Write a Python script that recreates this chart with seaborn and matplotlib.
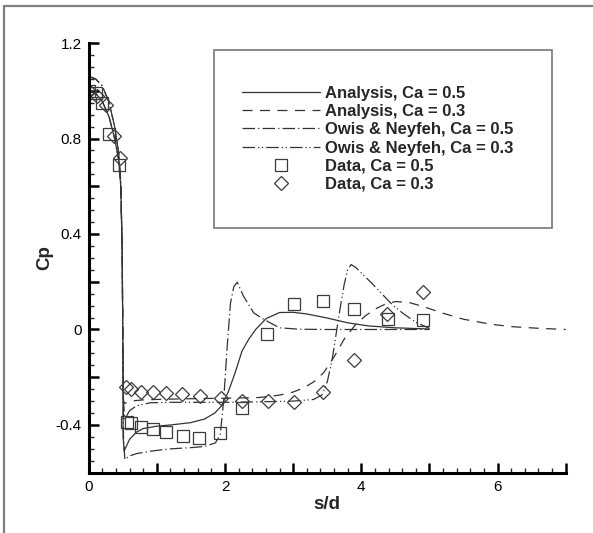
import numpy as np
import pandas as pd
import matplotlib
matplotlib.use("Agg")
import matplotlib.pyplot as plt
import seaborn as sns
from matplotlib.ticker import MultipleLocator, FuncFormatter
from matplotlib.patches import Rectangle
from matplotlib.lines import Line2D

# ---------------- data ----------------
an05_x = [0, 0.1, 0.2, 0.3, 0.38, 0.44, 0.47, 0.49, 0.50, 0.505, 0.52, 0.55, 0.6, 0.7, 0.8, 1.0, 1.2, 1.5,
          1.7, 1.85, 1.95, 2.05, 2.15, 2.25, 2.35, 2.45, 2.6, 2.8, 3.0, 3.2, 3.5, 3.8, 4.1, 4.5, 5.0]
an05_y = [1.0, 0.99, 0.955, 0.89, 0.80, 0.71, 0.60, 0.35, 0.0, -0.45, -0.51, -0.49, -0.46, -0.43, -0.415,
          -0.405, -0.40, -0.39, -0.375, -0.35, -0.32, -0.26, -0.18, -0.09, -0.04, 0.0, 0.045, 0.071, 0.072,
          0.065, 0.048, 0.028, 0.015, 0.007, 0.002]

an03_x = [0, 0.1, 0.2, 0.3, 0.38, 0.44, 0.47, 0.49, 0.50, 0.51, 0.53, 0.6, 0.8, 1.0, 1.5, 2.0, 2.5, 2.8,
          3.0, 3.15, 3.3, 3.45, 3.6, 3.75, 3.9, 4.05, 4.2, 4.35, 4.5, 4.7, 4.9, 5.2, 5.5, 5.9, 6.2, 6.6, 7.0]
an03_y = [1.0, 0.99, 0.955, 0.89, 0.80, 0.71, 0.60, 0.35, 0.0, -0.30, -0.31, -0.30, -0.295, -0.293, -0.29,
          -0.288, -0.285, -0.275, -0.262, -0.245, -0.22, -0.18, -0.115, -0.04, 0.015, 0.055, 0.085, 0.106,
          0.117, 0.113, 0.097, 0.068, 0.043, 0.022, 0.012, 0.005, 0.0]

ow05_x = [0, 0.1, 0.2, 0.3, 0.38, 0.44, 0.47, 0.49, 0.50, 0.51, 0.53, 0.6, 0.7, 0.9, 1.2, 1.5, 1.7, 1.86,
          1.93, 1.98, 2.03, 2.08, 2.13, 2.18, 2.27, 2.42, 2.57, 2.8, 3.1, 3.5, 4.0, 4.5, 5.0]
ow05_y = [1.06, 1.05, 1.02, 0.95, 0.85, 0.74, 0.62, 0.35, 0.0, -0.45, -0.545, -0.53, -0.52, -0.51, -0.50,
          -0.495, -0.49, -0.475, -0.44, -0.30, -0.08, 0.11, 0.18, 0.198, 0.14, 0.07, 0.042, 0.007, 0.001,
          0.0, 0.0, 0.0, 0.0]

ow03_x = [0, 0.1, 0.2, 0.3, 0.38, 0.44, 0.47, 0.49, 0.50, 0.51, 0.53, 0.6, 0.7, 0.9, 1.2, 1.6, 2.0, 2.5,
          3.0, 3.3, 3.42, 3.5, 3.57, 3.63, 3.69, 3.75, 3.8, 3.85, 3.92, 4.0, 4.15, 4.3, 4.45, 4.6, 4.8, 5.0]
ow03_y = [1.06, 1.05, 1.02, 0.95, 0.85, 0.74, 0.62, 0.35, 0.0, -0.30, -0.375, -0.34, -0.32, -0.307, -0.305,
          -0.305, -0.305, -0.303, -0.30, -0.293, -0.275, -0.22, -0.13, -0.02, 0.09, 0.19, 0.25, 0.272, 0.26,
          0.237, 0.195, 0.15, 0.105, 0.07, 0.03, 0.005]

d05_x = [0.0, 0.1, 0.2, 0.3, 0.45, 0.56, 0.62, 0.76, 0.95, 1.13, 1.38, 1.62, 1.93, 2.25, 2.62, 3.01, 3.44,
         3.89, 4.39, 4.90]
d05_y = [1.0, 0.99, 0.95, 0.82, 0.69, -0.388, -0.393, -0.407, -0.416, -0.43, -0.446, -0.453, -0.432, -0.328,
         -0.018, 0.107, 0.121, 0.087, 0.045, 0.038]

d03_x = [0.0, 0.12, 0.25, 0.37, 0.46, 0.55, 0.62, 0.76, 0.94, 1.13, 1.37, 1.63, 1.94, 2.25, 2.63, 3.01,
         3.44, 3.89, 4.38, 4.90]
d03_y = [1.0, 0.98, 0.94, 0.81, 0.72, -0.24, -0.25, -0.26, -0.26, -0.265, -0.27, -0.28, -0.286, -0.30,
         -0.30, -0.304, -0.26, -0.128, 0.066, 0.156]

labels = ["Analysis, Ca = 0.5", "Analysis, Ca = 0.3", "Owis & Neyfeh, Ca = 0.5",
          "Owis & Neyfeh, Ca = 0.3", "Data, Ca = 0.5", "Data, Ca = 0.3"]

# ---------------- style ----------------
sns.set_style("ticks")
plt.rcParams["font.family"] = ["Liberation Sans", "DejaVu Sans"]
plt.rcParams["axes.unicode_minus"] = False

fig = plt.figure(figsize=(5.93, 5.33), dpi=100)
ax = fig.add_axes([0.1496, 0.1131, 0.954 - 0.1496, 0.9193 - 0.1131])

lc = "#333333"
styles = [
    dict(linestyle="-"),
    dict(dashes=(8, 6)),
    dict(dashes=(10, 2.5, 1, 2.5)),
    dict(dashes=(10, 2.5, 1, 2, 1, 2.5)),
]
series = [(an05_x, an05_y), (an03_x, an03_y), (ow05_x, ow05_y), (ow03_x, ow03_y)]
for (xs, ys), st, lab in zip(series, styles, labels[:4]):
    df = pd.DataFrame({"x": xs, "y": ys})
    sns.lineplot(data=df, x="x", y="y", ax=ax, sort=False, estimator=None,
                 color=lc, lw=0.9, label=lab, **st)

for xs, ys, mk, ms, lab in [(d05_x, d05_y, "s", 8.5, labels[4]), (d03_x, d03_y, "D", 7.6, labels[5])]:
    df = pd.DataFrame({"x": xs, "y": ys})
    sns.lineplot(data=df, x="x", y="y", ax=ax, sort=False, estimator=None,
                 linestyle="", marker=mk, markersize=ms, markerfacecolor="none",
                 markeredgecolor="#3a3a3a", markeredgewidth=0.9, color="#3a3a3a", label=lab)

ax.set_xlim(0, 7)
ax.set_ylim(-0.6, 1.2)
for s in ["top", "right"]:
    ax.spines[s].set_visible(False)
for s in ["left", "bottom"]:
    ax.spines[s].set_linewidth(2.2)
    ax.spines[s].set_color("black")

ax.xaxis.set_major_locator(MultipleLocator(1))
ax.xaxis.set_minor_locator(MultipleLocator(0.2))
ax.yaxis.set_major_locator(MultipleLocator(0.2))
ax.yaxis.set_minor_locator(MultipleLocator(0.05))


def xfmt(v, p):
    r = int(round(v))
    return str(r) if r % 2 == 0 else ""


def yfmt(v, p):
    k = int(round(v / 0.2))
    if k % 2 != 0:
        return ""
    val = k * 0.2
    if abs(val) < 1e-9:
        return "0"
    return f"{val:.1f}"


ax.xaxis.set_major_formatter(FuncFormatter(xfmt))
ax.yaxis.set_major_formatter(FuncFormatter(yfmt))
ax.tick_params(which="major", direction="in", length=7, width=1.8, labelsize=11, pad=5, colors="black")
ax.tick_params(which="minor", direction="in", length=3.5, width=1.0)

ax.set_xlabel("s/d", fontsize=13.5, fontweight="bold", labelpad=2)
ax.set_ylabel("Cp", fontsize=13.5, fontweight="bold", labelpad=2)

# legend
handles, labs = ax.get_legend_handles_labels()
leg = ax.legend(handles, labs, loc="upper left", bbox_to_anchor=(242 / 593, 1 - 86 / 533),
                bbox_transform=fig.transFigure, frameon=False, borderpad=0, borderaxespad=0,
                handlelength=4.7, handletextpad=0.3, labelspacing=0.19, numpoints=1,
                prop={"size": 12, "weight": "bold"})
fig.patches.append(Rectangle((214 / 593, 1 - 228 / 533), 338 / 593, 178 / 533, transform=fig.transFigure,
                             fill=False, edgecolor="#808080", linewidth=1.3, zorder=5))

# figure frame (top and left)
fig.add_artist(Line2D([3.5 / 593, 1.0], [1 - 5.5 / 533, 1 - 5.5 / 533], transform=fig.transFigure,
                      color="#808080", linewidth=1.6))
fig.add_artist(Line2D([3.5 / 593, 3.5 / 593], [0, 1 - 5.5 / 533], transform=fig.transFigure,
                      color="#808080", linewidth=1.6))

fig.savefig("out.png", dpi=100)
